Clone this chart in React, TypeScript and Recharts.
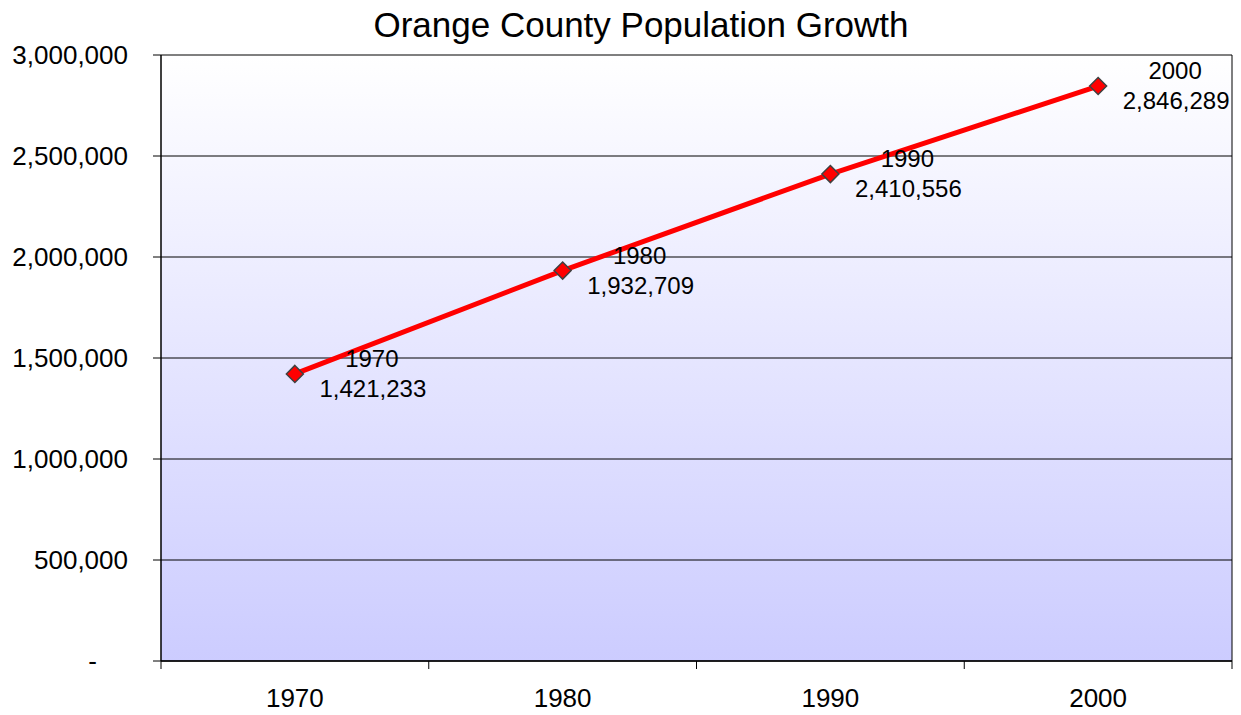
import React from "react";
import {
  LineChart, Line, XAxis, YAxis, CartesianGrid, ReferenceLine, LabelList,
} from "recharts";

const years = [1970, 1980, 1990, 2000];
const population = [1421233, 1932709, 2410556, 2846289];
const edgeTicks = [1965, 1975, 1985, 1995, 2005];
const yTicks = [0, 500000, 1000000, 1500000, 2000000, 2500000, 3000000];

const data = years.map((year, i) => ({ year, population: population[i] }));
const xTicks = [...edgeTicks, ...years].sort((a, b) => a - b);

const FONT = "'Liberation Sans', Arial, sans-serif";
const fmt = (v: number) => v.toLocaleString("en-US");

function YTick(props: any) {
  const { x, y, payload } = props;
  const v = payload.value as number;
  return (
    <text x={v === 0 ? x - 56 : x - 25} y={y} dy="0.355em" textAnchor="end"
      fontSize={26} fontFamily={FONT} fill="#000">
      {v === 0 ? "-" : fmt(v)}
    </text>
  );
}

function XTick(props: any) {
  const { x, y, payload } = props;
  const v = payload.value as number;
  if (edgeTicks.includes(v)) {
    return <line x1={x} y1={y} x2={x} y2={y + 8} stroke="#000" strokeWidth={1} />;
  }
  return (
    <text x={x} y={y + 46} textAnchor="middle" fontSize={26} fontFamily={FONT} fill="#000">
      {v}
    </text>
  );
}

function Diamond(props: any) {
  const { cx, cy } = props;
  if (cx == null || cy == null) return null;
  const r = 8.5;
  return (
    <polygon
      points={`${cx},${cy - r} ${cx + r},${cy} ${cx},${cy + r} ${cx - r},${cy}`}
      fill="#ff0000" stroke="#404040" strokeWidth={1.5}
    />
  );
}

function PointLabel(props: any) {
  const { x, y, value, index } = props;
  return (
    <g>
      <text x={x + 77} y={y - 7} textAnchor="middle" fontSize={24} fontFamily={FONT} fill="#000">
        {years[index]}
      </text>
      <text x={x + 78} y={y + 23} textAnchor="middle" fontSize={24} fontFamily={FONT} fill="#000">
        {fmt(value)}
      </text>
    </g>
  );
}

export default function App() {
  return (
    <div style={{ position: "absolute", left: 0, top: 0, width: 1241, height: 715, background: "#fff" }}>
      <div style={{
        position: "absolute", left: 0, top: 0, width: 1282, height: 50, lineHeight: "50px",
        textAlign: "center", fontFamily: FONT, fontSize: 35, color: "#000",
      }}>
        Orange County Population Growth
      </div>
      <LineChart width={1241} height={715} data={data}
        margin={{ top: 55, right: 9, bottom: 0, left: 0 }}>
        <defs>
          <linearGradient id="plotBg" x1="0" y1="0" x2="0" y2="1">
            <stop offset="0%" stopColor="#ffffff" />
            <stop offset="100%" stopColor="#ccccff" />
          </linearGradient>
        </defs>
        <CartesianGrid vertical={false} stroke="#000" strokeWidth={1} fill="url(#plotBg)" fillOpacity={1} />
        <XAxis dataKey="year" type="number" domain={[1965, 2005]} ticks={xTicks} interval={0}
          height={54} tickSize={0} tickMargin={0} tickLine={false} tick={<XTick />}
          axisLine={{ stroke: "#000", strokeWidth: 1.5 }} />
        <YAxis domain={[0, 3000000]} ticks={yTicks} interval={0} width={161}
          tickSize={8} tickMargin={0} tick={<YTick />}
          tickLine={{ stroke: "#000" }} axisLine={{ stroke: "#000", strokeWidth: 1.5 }} />
        <ReferenceLine x={2005} stroke="#000" strokeWidth={1} />
        <Line type="linear" dataKey="population" stroke="#ff0000" strokeWidth={5}
          dot={(p: any) => <Diamond key={p.index} {...p} />} activeDot={false}
          isAnimationActive={false}>
          <LabelList dataKey="population" content={<PointLabel />} />
        </Line>
      </LineChart>
    </div>
  );
}
